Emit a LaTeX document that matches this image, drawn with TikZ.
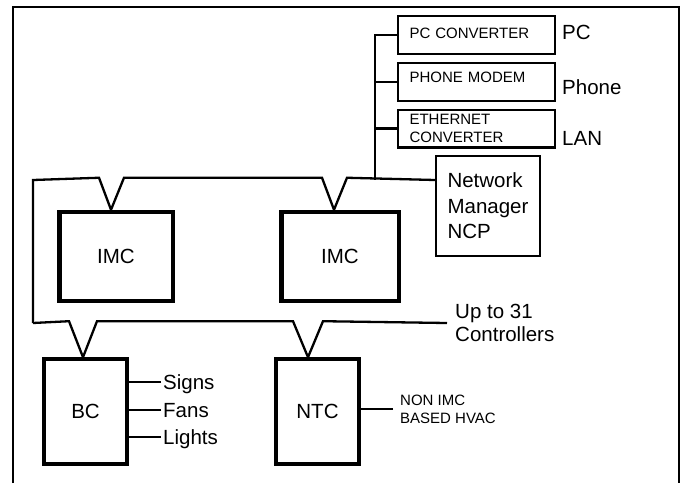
\documentclass[tikz,border=0pt]{standalone}
\usepackage{fontspec}
\setmainfont{Liberation Sans}
\usepackage{tikz}
\usetikzlibrary{positioning,calc}
\newcommand{\bigtxt}{\fontsize{20.5}{24}\selectfont}
\newcommand{\smalltxt}{\fontsize{15}{18}\selectfont}

\begin{document}
\begin{tikzpicture}[x=1pt,y=-1pt,
  bus/.style={line width=2.3pt},
  box/.style={draw,line width=2.4pt,inner sep=0pt},
  imc/.style={draw,line width=4.5pt,inner sep=0pt,minimum height=89pt,font=\bigtxt},
  ctrl/.style={draw,line width=3.6pt,inner sep=0pt,minimum width=83.5pt,minimum height=105pt,font=\bigtxt},
  conv/.style={box,minimum width=156.6pt,minimum height=37.6pt,text width=134pt,align=left,font=\smalltxt},
  tag/.style={anchor=west,inner xsep=2pt,inner ysep=0pt,text height=14.5pt,text depth=0pt,font=\bigtxt}]
  \useasboundingbox (0,0) rectangle (683,483);
  % frame, open at the bottom
  \draw[bus] (13,483) -- (13,7) -- (679,7) -- (679,483);
  % controllers
  \node[imc,minimum width=113.5pt] (imcL) at (116,256.5) {IMC};
  \node[imc,minimum width=117.5pt] (imcR) at (340,256.5) {IMC};
  \node[ctrl] (bc) at (85.5,411.5) {BC};
  \node[ctrl] (ntc) at (317.5,411.5) {NTC};
  \node[box,minimum width=103.6pt,minimum height=99.6pt,align=left,font=\fontsize{20.5}{25.5}\selectfont] (ncp) at (488,206) {Network\\Manager\\NCP};
  % interfaces
  \node[conv,text depth=4pt] (pcconv) at (476.5,35) {PC CONVERTER};
  \node[conv,text depth=9pt] (modem) at (476.5,82) {PHONE MODEM};
  \node[conv] (ethconv) at (476.5,128.5) {ETHERNET\\CONVERTER};
  \node[tag,inner xsep=1pt] (pc) at (561,32) {PC};
  \node[tag,inner xsep=1pt] (phone) at (561,87) {Phone};
  \node[tag,inner xsep=1pt] (lan) at (561,138) {LAN};
  % interface bus
  \coordinate (vb) at (375,180);
  \draw[bus] (pcconv.west) -| (vb);
  \draw[bus] (modem.west) -- (modem.west -| vb);
  \draw[bus] (ethconv.west) -- (ethconv.west -| vb);
  % network bus, top
  \coordinate (tl) at (33,180);
  \coordinate (bl) at (33,323);
  \coordinate (tapL) at ($(imcL.north)+(-5,0)$);
  \coordinate (tapR) at ($(imcR.north)+(-6,0)$);
  \draw[bus] (bl) -- (tl) -- ($(tapL)+(-12,-32)$) -- (tapL) -- ++(13,-32)
    -- ($(tapR)+(-12,-32)$) -- (tapR) -- ++(13,-32) -- (ncp.west |- tl);
  % network bus, bottom
  \node[anchor=west,align=left,inner sep=0pt,font=\fontsize{20.5}{23}\selectfont] (upto) at (455,323) {Up to 31\\Controllers};
  \coordinate (tapB) at ($(bc.north)+(-2.5,0)$);
  \coordinate (tapN) at ($(ntc.north)+(-9.5,0)$);
  \draw[bus] (bl) -- ($(tapB)+(-14,-36)$) -- (tapB) -- ++(14,-36)
    -- ($(tapN)+(-15,-36)$) -- (tapN) -- ++(15,-36) -- ([xshift=-8pt]upto.west);
  % BC outputs
  \node[tag] (signs) at (161,382) {Signs};
  \node[tag] (fans) at (161,410) {Fans};
  \node[tag] (lights) at (161,437) {Lights};
  \foreach \o in {signs,fans,lights} \draw[bus] (\o.west) -- (\o.west -| bc.east);
  % NTC output
  \node[anchor=west,align=left,inner xsep=7pt,inner ysep=0pt,font=\smalltxt] (hvac) at (393,409) {NON IMC\\BASED HVAC};
  \draw[bus] (hvac.west) -- (hvac.west -| ntc.east);
\end{tikzpicture}
\end{document}
